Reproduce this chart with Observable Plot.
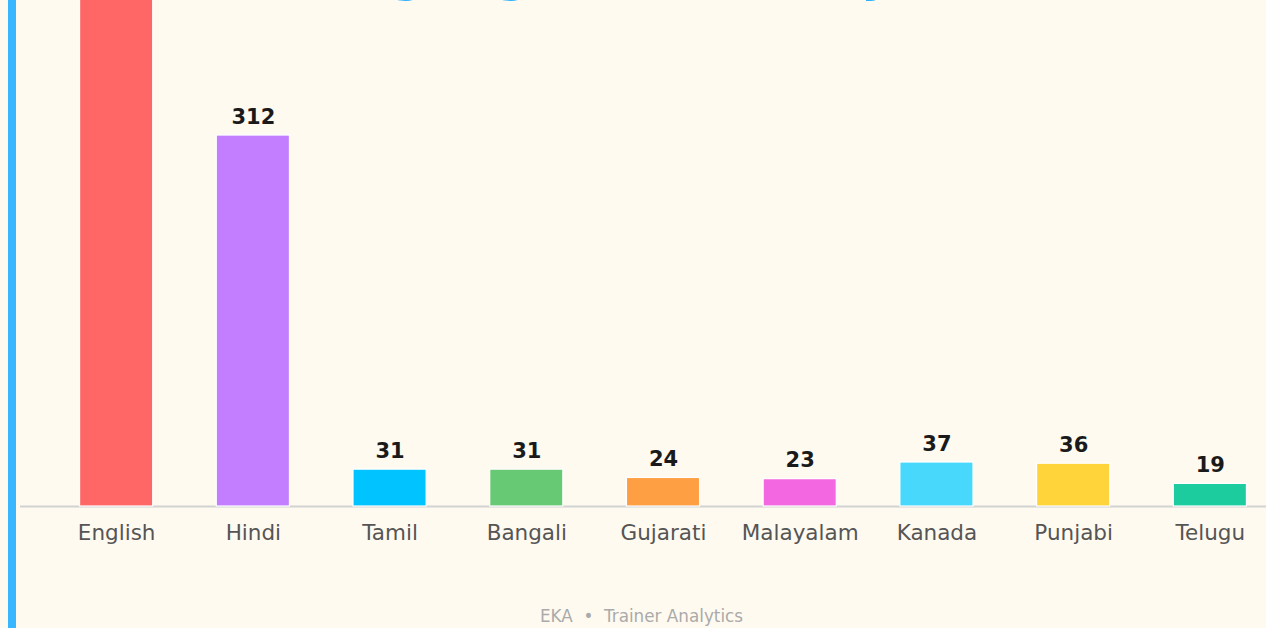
<!DOCTYPE html>
<html>
<head>
<meta charset="utf-8">
<script src="https://cdn.jsdelivr.net/npm/d3@7"></script>
<script src="https://cdn.jsdelivr.net/npm/@observablehq/plot@0.6"></script>
<style>
  html, body { margin: 0; padding: 0; background: #fffaf0; overflow: hidden; }
  body { width: 1266px; height: 628px; position: relative; font-family: "DejaVu Sans", sans-serif; }
  #stripe { position: absolute; left: 8px; top: 0; width: 8px; height: 628px; background: #38b6ff; }
  #title { position: absolute; left: 289px; top: -51px; font-size: 50px; line-height: 1; font-weight: bold; color: #2db1ff; white-space: pre; }
  #chart { position: absolute; left: 0; top: 0; }
  #footer { position: absolute; left: 17px; right: 0; top: 608px; text-align: center; font-size: 16.8px; line-height: 1; color: #aaaaaa; white-space: pre; }
</style>
</head>
<body>
<div id="stripe"></div>
<div id="title">Language Proficiency</div>
<div id="chart"></div>
<div id="footer">EKA  •  Trainer Analytics</div>
<script>
const languages = ["English", "Hindi", "Tamil", "Bangali", "Gujarati", "Malayalam", "Kanada", "Punjabi", "Telugu"];
const counts = [480, 312, 31, 31, 24, 23, 37, 36, 19];
const colors = ["#ff6666", "#c27eff", "#00c3ff", "#68c975", "#ff9f43", "#f368e0", "#48d8fb", "#ffd43b", "#1ccc9f"];

const data = languages.map((lang, i) => ({lang, count: counts[i], color: colors[i]}));

const chart = Plot.plot({
  width: 1266,
  height: 560,
  marginLeft: 20,
  marginRight: 0,
  marginTop: 0,
  marginBottom: 54,
  style: {background: "transparent", fontFamily: "DejaVu Sans", overflow: "hidden"},
  x: {domain: languages, range: [16, 1310], padding: 0.465, round: false, label: null},
  y: {domain: [0, 400], range: [506, 506 - 1.189 * 400], axis: null},
  color: {type: "identity"},
  marks: [
    Plot.ruleY([0], {stroke: "#d2d2d2", strokeWidth: 2}),
    Plot.barY(data, {x: "lang", y: "count", fill: "color", stroke: "white", strokeWidth: 1.2}),
    Plot.text(data, {x: "lang", y: "count", text: d => String(d.count), dy: -12, lineAnchor: "bottom", fontSize: 21, fontWeight: "bold", fill: "#1a1a1a"}),
    Plot.axisX({tickSize: 0, tickPadding: 18, fontSize: 21.5, fill: "#555555", label: null})
  ]
});
document.getElementById("chart").appendChild(chart);
</script>
</body>
</html>
